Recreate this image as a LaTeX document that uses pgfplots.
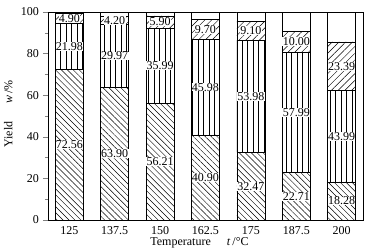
\documentclass[border=0pt]{standalone}
\usepackage{fontspec}
\setmainfont{Liberation Serif}
\usepackage{pgfplots}
\usepackage{pgfplotstable}
\pgfplotsset{compat=1.18}
\usetikzlibrary{patterns.meta}
\pgfplotstableread{
x a b c
0 72.56 21.98 4.90
1 63.90 29.97 4.20
2 56.21 35.99 5.90
3 40.90 45.98 9.70
4 32.47 53.98 9.10
5 22.71 57.99 10.00
6 18.28 43.99 23.39
}\datatable
\begin{document}
\fontsize{12}{14}\selectfont
\begin{tikzpicture}
\path[use as bounding box] (-48pt,-32pt) rectangle (333pt,220pt);
\pgfplotsset{common/.style={scale only axis, width=315pt, height=208pt,
  xmin=-0.47, xmax=6.47, ymin=0, ymax=100}}
\begin{axis}[common, ybar stacked, bar width=0.62,
  axis line style={line width=0.6pt},
  xtick={0,...,6},
  xticklabels={125,137.5,150,162.5,175,187.5,200},
  xtick style={draw=none},
  xticklabel style={yshift=3pt},
  ytick={0,20,40,60,80,100},
  minor y tick num=1,
  ytick pos=left,
  tick align=outside,
  major tick length=5pt, minor tick length=3pt,
  /pgf/number format/assume math mode=true,
  ylabel={Yield\hspace{18pt}\textit{w}\,/\%},
  ylabel style={xshift=2pt},
  xlabel={Temperature\hspace{16pt}\textit{t}\,/°C},
  xlabel style={xshift=-6pt, yshift=5pt},
]
\addplot[draw=black, line width=0.6pt, pattern={Lines[angle=-45,distance=4.2pt,line width=0.45pt]}] table[x=x,y=a]{\datatable};
\addplot[draw=black, line width=0.6pt, pattern={Lines[angle=90,distance=5.5pt,line width=0.45pt]}] table[x=x,y=b]{\datatable};
\addplot[draw=black, line width=0.6pt, pattern={Lines[angle=45,distance=4.8pt,line width=0.45pt]}] table[x=x,y=c]{\datatable};
\addplot[draw=black, line width=0.6pt, fill=white] table[x=x,y expr=100-\thisrow{a}-\thisrow{b}-\thisrow{c}]{\datatable};
\end{axis}
\begin{axis}[common, hide axis]
\pgfplotsset{lbl/.style={draw=none, mark=none, nodes near coords, point meta=explicit symbolic,
  nodes near coords align={center},
  every node near coord/.append style={fill=white, inner sep=0.3pt, anchor=center}}}
\addplot[lbl] table[x=x, y expr=\thisrow{a}/2, meta=a]{\datatable};
\addplot[lbl] table[x=x, y expr=\thisrow{a}+\thisrow{b}/2, meta=b]{\datatable};
\addplot[lbl] table[x=x, y expr=\thisrow{a}+\thisrow{b}+\thisrow{c}/2, meta=c]{\datatable};
\end{axis}
\end{tikzpicture}
\end{document}
